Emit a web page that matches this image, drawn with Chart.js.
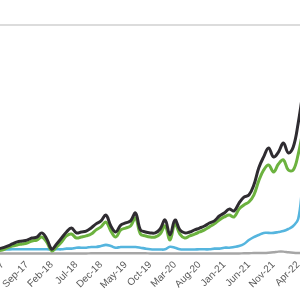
<!DOCTYPE html>
<html>
<head>
<meta charset="utf-8">
<script src="https://cdn.jsdelivr.net/npm/chart.js@4/dist/chart.umd.min.js"></script>
<style>
html,body{margin:0;padding:0;background:#fff;overflow:hidden;}
canvas{display:block;}
</style>
</head>
<body>
<canvas id="c" width="300" height="300"></canvas>
<script>
const months = ['Mar-17','Apr-17','May-17','Jun-17','Jul-17','Aug-17','Sep-17','Oct-17','Nov-17','Dec-17',
'Jan-18','Feb-18','Mar-18','Apr-18','May-18','Jun-18','Jul-18','Aug-18','Sep-18','Oct-18','Nov-18','Dec-18',
'Jan-19','Feb-19','Mar-19','Apr-19','May-19','Jun-19','Jul-19','Aug-19','Sep-19','Oct-19','Nov-19','Dec-19',
'Jan-20','Feb-20','Mar-20','Apr-20','May-20','Jun-20','Jul-20','Aug-20','Sep-20','Oct-20','Nov-20','Dec-20',
'Jan-21','Feb-21','Mar-21','Apr-21','May-21','Jun-21','Jul-21','Aug-21','Sep-21','Oct-21','Nov-21','Dec-21',
'Jan-22','Feb-22','Mar-22','Apr-22','May-22','Jun-22'];

const tickLabels = ['Apr-17','Sep-17','Feb-18','Jul-18','Dec-18','May-19','Oct-19','Mar-20','Aug-20','Jan-21','Jun-21','Nov-21','Apr-22'];

const seriesBlack = [3.0,3.5,4.3,5.2,6.1,6.5,6.9,7.8,8.2,10.0,7.4,
3.0,5.2,7.8,10.4,12.1,10.0,10.4,10.8,12.1,13.9,
15.2,17.7,13.0,10.4,13.4,14.3,15.2,18.6,11.3,10.4,
10.0,10.0,11.7,15.6,9.1,15.6,11.3,10.0,10.4,11.3,
12.1,13.0,14.3,15.2,17.3,18.6,20.3,19.5,22.9,25.5,
26.4,30.7,38.1,42.9,46.8,42.9,45.0,48.9,44.6,47.2,
57.5,71.0,82.0];

const seriesGreen = [2.2,2.6,3.5,4.3,4.8,5.2,5.6,6.5,6.9,8.2,6.0,
2.2,3.9,6.1,8.7,9.5,7.8,8.2,8.7,9.5,11.3,
12.6,14.7,10.8,8.2,11.3,12.1,13.0,16.5,9.5,8.7,
8.2,8.2,9.5,13.0,6.9,13.9,9.5,7.8,8.7,9.5,
10.4,11.3,12.6,13.9,15.6,16.9,17.7,16.9,20.3,22.1,
23.4,26.4,32.5,37.2,39.4,36.4,39.8,41.6,37.2,37.2,
44.0,54.5,64.0];

const seriesBlue = [2.8,2.8,2.8,2.9,2.9,2.9,2.9,2.9,2.9,2.9,2.9,
2.8,2.9,2.9,3.2,3.2,3.6,3.6,3.6,3.9,3.9,
4.3,4.8,4.3,3.6,3.9,3.9,3.9,3.9,3.6,3.2,
2.9,2.8,2.8,2.9,4.0,3.6,2.9,2.8,2.8,2.8,
2.9,2.9,2.9,3.2,3.2,3.6,3.6,3.9,4.3,5.2,
6.9,8.2,9.1,10.0,10.0,10.0,10.4,10.8,11.7,13.0,
16.0,32.0,42.0];

const seriesGray = [1.1,1.1,1.1,1.1,1.1,1.1,1.1,1.1,1.1,1.1,1.1,
1.1,1.1,1.1,1.1,1.1,1.1,1.1,1.1,1.2,1.2,
1.2,1.2,1.2,1.2,1.2,1.2,1.2,1.2,1.2,1.2,
1.1,1.1,1.1,1.1,1.1,1.1,1.1,1.1,1.1,1.1,
1.1,1.1,1.1,1.1,1.1,1.1,1.1,1.1,1.1,1.2,
1.2,1.3,1.3,1.3,1.4,1.6,1.9,1.9,1.6,1.4,
1.3,1.3,1.3];

const toPoints = arr => arr.map((v, j) => ({x: j, y: v}));

const ds = (label, arr, color, w, order) => ({
  label, data: toPoints(arr), borderColor: color, backgroundColor: color,
  borderWidth: w, pointRadius: 0, tension: 0.4, fill: false, clip: false, order
});

new Chart(document.getElementById('c'), {
  type: 'line',
  data: {
    datasets: [
      ds('Gray', seriesGray, '#a6a6a6', 2.4, 4),
      ds('Blue', seriesBlue, '#55b5de', 2.6, 3),
      ds('Green', seriesGreen, '#6cb23f', 3, 2),
      ds('Black', seriesBlack, '#2f2c31', 3, 1)
    ]
  },
  options: {
    responsive: false,
    animation: false,
    events: [],
    layout: {padding: {top: 25, left: 0, right: 0, bottom: 0}},
    plugins: {legend: {display: false}, tooltip: {enabled: false}},
    scales: {
      x: {
        type: 'linear',
        min: 0.51,
        max: 61.37,
        grid: {display: false, drawTicks: false},
        border: {display: false},
        afterBuildTicks: s => { s.ticks = tickLabels.map(t => ({value: months.indexOf(t)})); },
        afterFit: s => { s.height = 44; s.paddingLeft = 0; s.paddingRight = 0; },
        ticks: {
          autoSkip: false,
          minRotation: 45, maxRotation: 45,
          padding: 3,
          color: '#595959',
          font: {family: 'Liberation Sans', size: 10},
          callback: v => months[v]
        }
      },
      y: {
        min: 0, max: 100,
        afterBuildTicks: s => { s.ticks = [{value: 100}]; },
        afterFit: s => { s.width = 0; },
        ticks: {display: false},
        border: {display: false},
        grid: {drawTicks: false, color: '#dcdcdc', lineWidth: 2}
      }
    }
  }
});
</script>
</body>
</html>
